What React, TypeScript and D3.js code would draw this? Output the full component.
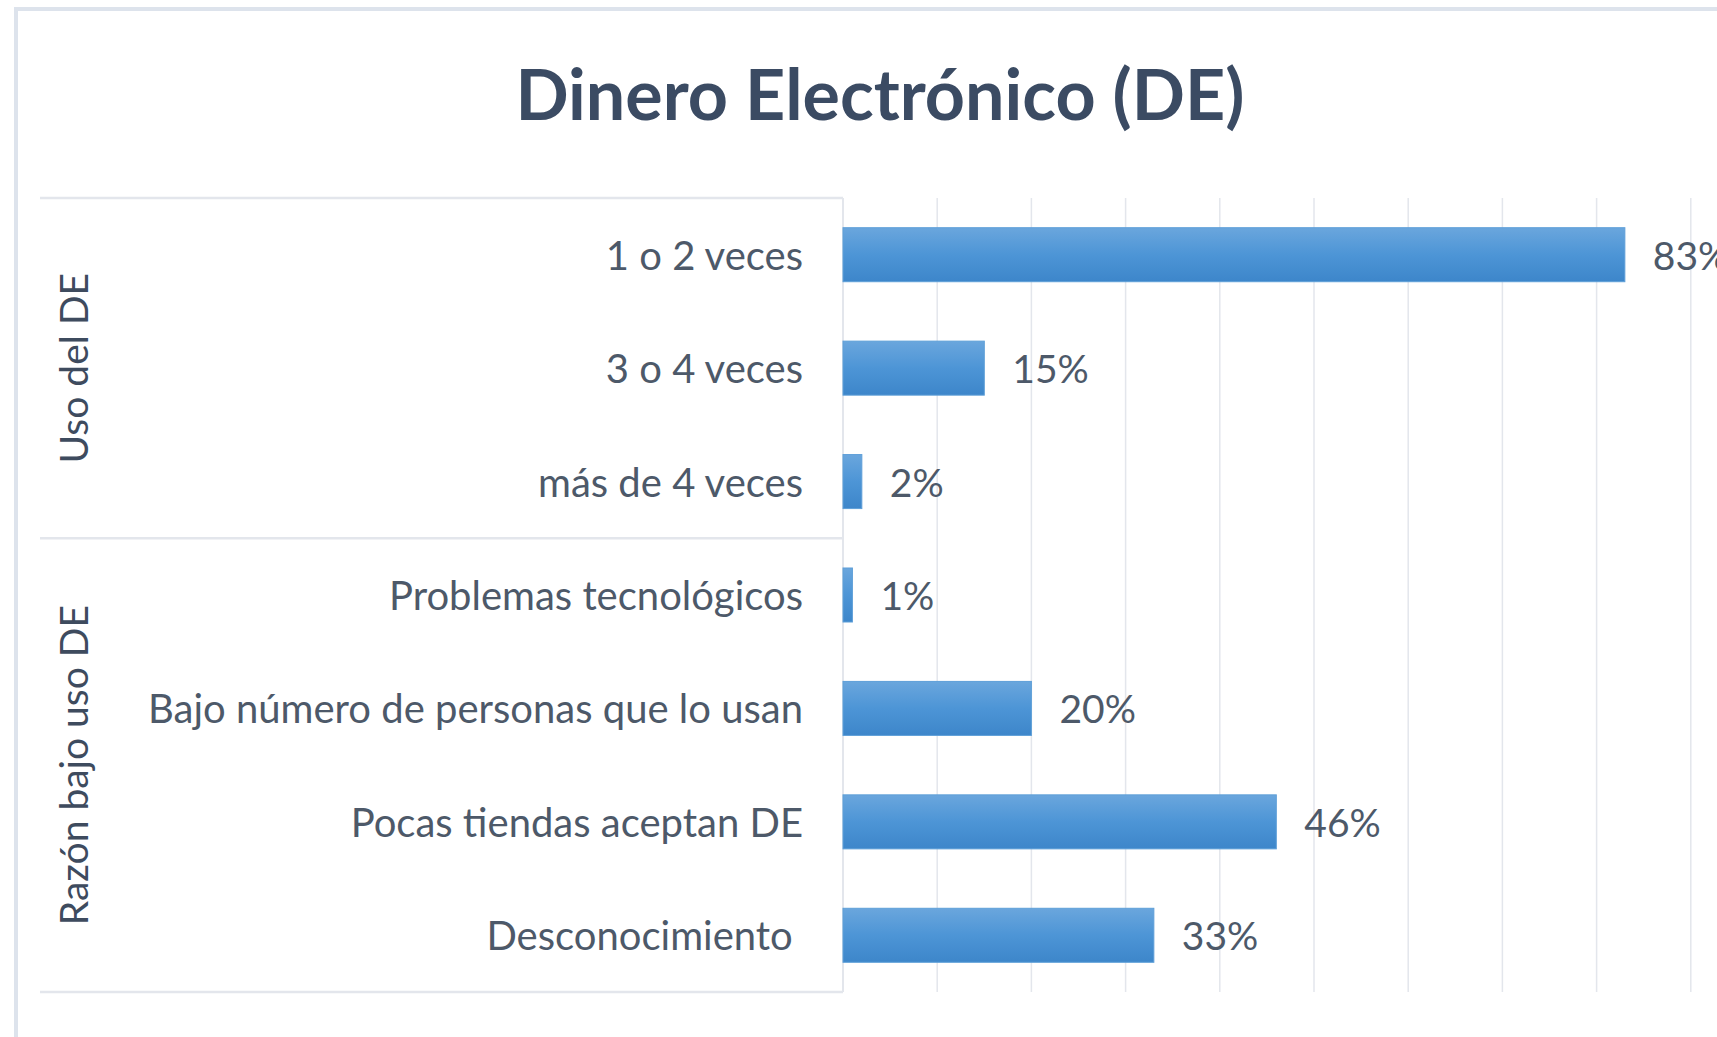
import { scaleBand, scaleLinear } from 'd3';

// data
const groups = ['Uso del DE', 'Razón bajo uso DE'];
const groupSizes = [3, 4];
const categories = [
  '1 o 2 veces',
  '3 o 4 veces',
  'más de 4 veces',
  'Problemas tecnológicos',
  'Bajo número de personas que lo usan',
  'Pocas tiendas aceptan DE',
  'Desconocimiento ',
];
const values = [0.83, 0.15, 0.02, 0.01, 0.2, 0.46, 0.33];
const gridTicks = [0, 0.1, 0.2, 0.3, 0.4, 0.5, 0.6, 0.7, 0.8, 0.9, 1.0];

const W = 1717;
const H = 1037;
const FONT = 'Lato, "Open Sans", sans-serif';

const App = () => {
  const left = 843;
  const boxLeft = 40;
  const top = 198;
  const bottom = 992;

  const x = scaleLinear().domain([0, 1]).range([left, left + 942]);
  const y = scaleBand<string>()
    .domain(categories)
    .range([top, bottom])
    .paddingInner(1.1 / 2.1)
    .paddingOuter(0.55 / 2.1);

  const step = y.step();
  // group boundaries
  let acc = 0;
  const bounds = groupSizes.map((n) => {
    const y0 = top + acc * step;
    acc += n;
    return { y0, y1: top + acc * step };
  });

  return (
    <svg width={W} height={H} style={{ position: 'absolute', left: 0, top: 0, background: '#fff' }}>
      <defs>
        <linearGradient id="barGrad" x1="0" y1="0" x2="0" y2="1">
          <stop offset="0%" stopColor="#6aa6dd" />
          <stop offset="50%" stopColor="#4d95d6" />
          <stop offset="100%" stopColor="#3d86ca" />
        </linearGradient>
      </defs>

      {/* chart border */}
      <rect x={16} y={9} width={W + 50} height={H + 50} fill="#fff" stroke="#dde3ec" strokeWidth={4} />

      <text x={880} y={120} textAnchor="middle" fontFamily={FONT} fontWeight={700} fontSize={70} fill="#3b4b63">
        Dinero Electrónico (DE)
      </text>

      {/* gridlines */}
      {gridTicks.slice(1).map((t) => (
        <line key={t} x1={x(t)} x2={x(t)} y1={top} y2={bottom} stroke="#e3e6ec" strokeWidth={1.5} />
      ))}

      {/* category box */}
      <line x1={left} x2={left} y1={top} y2={bottom} stroke="#e3e6ec" strokeWidth={2} />
      {[top, bounds[0].y1, bottom].map((yy, i) => (
        <line key={i} x1={boxLeft} x2={left} y1={yy} y2={yy} stroke="#e3e6ec" strokeWidth={2.5} />
      ))}

      {/* group labels */}
      {groups.map((g, i) => {
        const cy = (bounds[i].y0 + bounds[i].y1) / 2;
        return (
          <text
            key={g}
            transform={`translate(73,${cy}) rotate(-90)`}
            textAnchor="middle"
            dominantBaseline="central"
            fontFamily={FONT}
            fontSize={39}
            fill="#3e4b5e"
          >
            {g}
          </text>
        );
      })}

      {/* category labels */}
      {categories.map((c) => (
        <text
          key={c}
          x={803}
          y={(y(c) ?? 0) + y.bandwidth() / 2}
          textAnchor="end"
          dominantBaseline="central"
          fontFamily={FONT}
          fontSize={40}
          fill="#4d5969"
          style={{ whiteSpace: 'pre' }}
        >
          {c}
        </text>
      ))}

      {/* bars */}
      {categories.map((c, i) => (
        <rect
          key={c}
          x={x(0)}
          y={y(c)}
          width={x(values[i]) - x(0)}
          height={y.bandwidth()}
          fill="url(#barGrad)"
          stroke="#5e9fd8"
          strokeWidth={1}
        />
      ))}

      {/* value labels */}
      {categories.map((c, i) => (
        <text
          key={c}
          x={x(values[i]) + 28}
          y={(y(c) ?? 0) + y.bandwidth() / 2}
          dominantBaseline="central"
          fontFamily={FONT}
          fontSize={39}
          fill="#4d5969"
        >
          {Math.round(values[i] * 100)}%
        </text>
      ))}
    </svg>
  );
};

export default App;
